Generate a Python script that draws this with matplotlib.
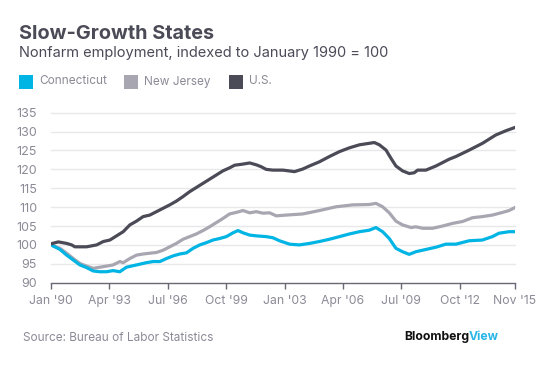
import matplotlib
matplotlib.use("Agg")
import matplotlib.pyplot as plt
from matplotlib.patches import Rectangle
from matplotlib.text import Annotation

plt.rcParams['font.family'] = ['Inter', 'DejaVu Sans']

# ---- data (decimal years, index Jan 1990 = 100) ----
us_years = [1990.00, 1990.41, 1990.87, 1991.15, 1991.33, 1991.98, 1992.54, 1992.91, 1993.28,
            1993.65, 1994.02, 1994.39, 1994.76, 1995.13, 1995.50, 1995.87, 1996.24, 1996.61,
            1996.98, 1997.35, 1997.72, 1998.09, 1998.46, 1998.83, 1999.20, 1999.57, 1999.94,
            2000.22, 2000.69, 2001.06, 2001.43, 2001.70, 2001.98, 2002.35, 2002.91, 2003.56,
            2004.02, 2004.39, 2004.94, 2005.50, 2006.06, 2006.61, 2007.17, 2007.72, 2008.00,
            2008.28, 2008.65, 2008.93, 2009.20, 2009.57, 2009.94, 2010.22, 2010.41, 2010.87,
            2011.43, 2012.17, 2012.54, 2013.28, 2014.02, 2014.76, 2015.31, 2015.83]
us_values = [100.3, 100.8, 100.4, 100.0, 99.5, 99.5, 100.0, 100.9, 101.3,
             102.4, 103.5, 105.3, 106.3, 107.5, 107.9, 108.8, 109.7, 110.6,
             111.6, 112.8, 114.1, 115.2, 116.3, 117.4, 118.5, 119.6, 120.4,
             121.1, 121.4, 121.7, 121.2, 120.7, 120.0, 119.8, 119.8, 119.4,
             120.1, 120.9, 122.0, 123.4, 124.7, 125.7, 126.5, 126.9, 127.1,
             126.5, 125.1, 122.9, 120.9, 119.6, 118.9, 119.1, 119.8, 119.8,
             120.9, 122.7, 123.4, 125.1, 126.9, 129.1, 130.2, 131.1]

nj_years = [1990.00, 1990.50, 1990.87, 1991.24, 1991.61, 1991.98, 1992.35, 1992.72, 1993.09,
            1993.46, 1993.83, 1994.02, 1994.39, 1994.76, 1995.13, 1995.50, 1995.87, 1996.24,
            1996.61, 1996.98, 1997.35, 1997.72, 1998.09, 1998.46, 1998.83, 1999.20, 1999.57,
            1999.94, 2000.31, 2000.69, 2001.06, 2001.43, 2001.80, 2002.17, 2002.54, 2003.09,
            2004.02, 2004.94, 2005.87, 2006.80, 2007.72, 2008.09, 2008.46, 2008.83, 2009.20,
            2009.57, 2010.04, 2010.31, 2010.69, 2011.24, 2011.80, 2012.35, 2012.91, 2013.46,
            2014.02, 2014.57, 2015.13, 2015.50, 2015.83]
nj_values = [100.0, 99.1, 97.8, 96.4, 95.1, 94.4, 93.8, 94.1, 94.4,
             94.7, 95.6, 95.3, 96.4, 97.3, 97.6, 97.8, 98.0, 98.6,
             99.5, 100.4, 101.5, 102.2, 102.9, 103.8, 104.8, 105.9, 107.0,
             108.2, 108.6, 109.1, 108.5, 108.8, 108.4, 108.5, 107.7, 107.9,
             108.2, 109.1, 110.1, 110.6, 110.7, 111.0, 110.1, 108.5, 106.3,
             105.3, 104.6, 104.8, 104.4, 104.4, 105.0, 105.7, 106.2, 107.2,
             107.5, 107.9, 108.6, 109.1, 109.9]

ct_years = [1990.00, 1990.50, 1990.87, 1991.24, 1991.61, 1991.98, 1992.35, 1992.72, 1993.09,
            1993.46, 1993.83, 1994.20, 1994.57, 1994.94, 1995.31, 1995.69, 1996.06, 1996.43,
            1996.80, 1997.17, 1997.54, 1997.91, 1998.28, 1998.65, 1999.02, 1999.39, 1999.76,
            2000.13, 2000.41, 2000.69, 2001.06, 2001.43, 2001.98, 2002.35, 2002.72, 2003.28,
            2003.83, 2004.39, 2004.94, 2005.50, 2006.06, 2006.61, 2007.17, 2007.72, 2008.09,
            2008.46, 2008.83, 2009.20, 2009.57, 2009.94, 2010.31, 2010.87, 2011.43, 2011.98,
            2012.54, 2013.28, 2014.02, 2014.57, 2014.94, 2015.50, 2015.83]
ct_values = [100.0, 98.8, 97.3, 96.0, 94.7, 94.0, 93.1, 92.9, 92.9,
             93.2, 92.9, 94.1, 94.5, 94.9, 95.3, 95.6, 95.6, 96.4,
             97.1, 97.6, 97.9, 99.1, 100.0, 100.6, 101.3, 101.7, 102.2,
             103.2, 103.8, 103.2, 102.6, 102.4, 102.2, 101.9, 101.1, 100.2,
             100.0, 100.4, 100.9, 101.5, 102.2, 102.9, 103.5, 103.9, 104.6,
             103.5, 101.7, 99.1, 98.2, 97.5, 98.2, 98.8, 99.4, 100.2,
             100.2, 101.1, 101.3, 102.2, 103.1, 103.5, 103.5]

series_names = ["Connecticut", "New Jersey", "U.S."]
series_colors = ["#00b4e4", "#a8a6b1", "#4b4a57"]

tick_pos = [1990.0, 1993.25, 1996.5, 1999.75, 2003.0, 2006.25, 2009.5, 2012.75, 2015.83]
tick_labels = ["Jan '90", "Apr '93", "Jul '96", "Oct '99", "Jan '03", "Apr '06", "Jul '09",
               "Oct '12", "Nov '15"]
y_ticks = [90, 95, 100, 105, 110, 115, 120, 125, 130, 135]

W, H = 557, 365
fig = plt.figure(figsize=(W / 100, H / 100), dpi=100)
fig.patch.set_facecolor("white")

ax = fig.add_axes([51 / W, 1 - 282.7 / H, (515 - 51) / W, (282.7 - 112.7) / H])
ax.set_xlim(1990.0, 2015.83)
ax.set_ylim(90, 135)

text_grey = "#8c8a96"
dark = "#4b4a57"

for yv in y_ticks[1:]:
    ax.axhline(yv, color="#e8e8ea", lw=1.0, zorder=0, clip_on=False)

ax.plot(nj_years, nj_values, color=series_colors[1], lw=2.3, solid_joinstyle="round", zorder=2)
ax.plot(ct_years, ct_values, color=series_colors[0], lw=2.3, solid_joinstyle="round", zorder=3)
ax.plot(us_years, us_values, color=series_colors[2], lw=2.3, solid_joinstyle="round", zorder=4)

for s in ["top", "right", "left"]:
    ax.spines[s].set_visible(False)
ax.spines["bottom"].set_color("#6a6874")
ax.spines["bottom"].set_linewidth(1.0)

ax.set_yticks(y_ticks)
ax.set_yticklabels([str(v) for v in y_ticks])
ax.tick_params(axis="y", length=0, pad=10, labelsize=9, labelcolor=text_grey)
ax.set_xticks(tick_pos)
ax.set_xticklabels(tick_labels)
ax.tick_params(axis="x", length=4, width=1.0, color="#6a6874", pad=5,
               labelsize=8.8, labelcolor=text_grey)

# Title / subtitle
fig.text(19 / W, 1 - 25 / H, "Slow-Growth States", fontsize=14.3, fontweight="bold",
         color=dark, ha="left", va="top")
fig.text(19 / W, 1 - 46 / H, "Nonfarm employment, indexed to January 1990 = 100",
         fontsize=10.5, color=dark, ha="left", va="top")

# Legend
leg_x = [19, 124, 229]
for x0, name, c in zip(leg_x, series_names, series_colors):
    fig.patches.append(Rectangle((x0 / W, 1 - 88.5 / H), 14 / W, 14 / H,
                                 transform=fig.transFigure, facecolor=c, edgecolor="none"))
    fig.text((x0 + 20) / W, 1 - 81.5 / H, name, fontsize=8.5, color=text_grey,
             ha="left", va="center")

# Source and logo
fig.text(23 / W, 1 - 338 / H, "Source: Bureau of Labor Statistics", fontsize=8.5,
         color=text_grey, ha="left", va="center")
view = fig.text(499 / W, 1 - 337 / H, "View", fontsize=8.8, fontweight="bold",
                color="#2ab6e8", ha="right", va="center")
fig.add_artist(Annotation("Bloomberg", xy=(0, 0.5), xycoords=view, ha="right", va="center",
                          fontsize=8.8, fontweight="bold", color="#111111"))

fig.savefig("out.png", dpi=100, facecolor="white")
